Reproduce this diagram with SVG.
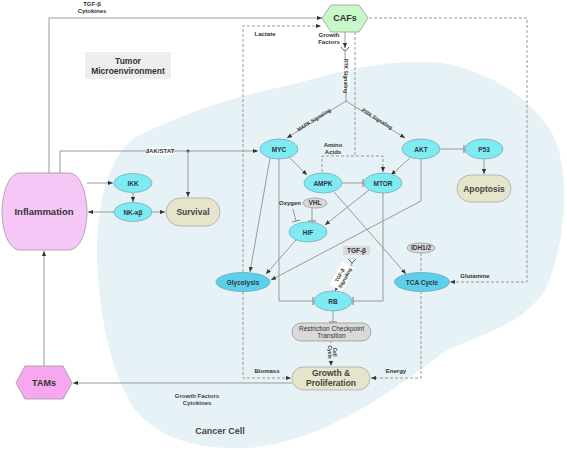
<svg xmlns="http://www.w3.org/2000/svg" width="567" height="450" viewBox="0 0 567 450">
<defs>
<marker id="arr" viewBox="0 0 6 6" refX="6" refY="3" markerWidth="5" markerHeight="5" orient="auto" markerUnits="userSpaceOnUse"><path d="M0,0.5 L6,3 L0,5.5Z" fill="#333"/></marker>
<marker id="bar" viewBox="0 0 2 8" refX="1" refY="4" markerWidth="2" markerHeight="8" orient="auto" markerUnits="userSpaceOnUse"><line x1="1" y1="0" x2="1" y2="8" stroke="#888" stroke-width="1.2"/></marker>
<style>
text{font-family:"Liberation Sans",Arial,sans-serif;font-weight:bold;fill:#333;text-anchor:middle}
.sm{font-size:6px}
.nd{font-size:6.5px;fill:#334}
.big{font-size:8.5px;fill:#444}
.ln{fill:none;stroke:#999;stroke-width:1}
.ds{fill:none;stroke:#999;stroke-width:1;stroke-dasharray:3,2}
.a{marker-end:url(#arr)}
.t{marker-end:url(#bar)}
.cy{fill:#7eebf3;stroke:#7ab;stroke-width:0.8}
.cyd{fill:#5ccfea;stroke:#6ab;stroke-width:0.8}
.gy{fill:#d9d9d9;stroke:#999;stroke-width:0.8}
.bg{fill:#e6e5cb;stroke:#aaa;stroke-width:0.8}
</style>
</defs>
<rect width="567" height="450" fill="#fff"/>
<path id="cell" d="M290,85 C340,72 380,60 430,62 C480,65 530,95 553,135 C570,170 568,240 545,290 C520,330 470,335 440,355 C400,385 330,440 250,448 C200,450 160,440 135,410 C110,370 100,320 97,260 C96,200 110,150 140,135 C190,110 240,95 290,85 Z" fill="#e6f2f6"/>
<g id="tme"><rect x="85" y="52" width="86" height="27" fill="#eee"/><text x="128" y="64" style="font-size:8.5px">Tumor</text><text x="128" y="74" style="font-size:8.5px">Microenvironment</text></g>
<text x="220" y="434" style="font-size:9px;fill:#444">Cancer Cell</text>
<g id="connectors">
<polyline class="ln a" points="49,173 49,18 322,18"/>
<polyline class="ln a" points="60,173 60,151 258,151"/>
<circle cx="188" cy="151" r="1.5" fill="#444"/>
<line class="ln a" x1="188" y1="151" x2="188" y2="197"/>
<line class="ln a" x1="87" y1="183" x2="113" y2="183"/>
<line class="ln a" x1="133" y1="193" x2="133" y2="202"/>
<line class="ln a" x1="114" y1="212" x2="88" y2="212"/>
<line class="ln a" x1="152" y1="212" x2="165" y2="212"/>
<line class="ln a" x1="44" y1="366" x2="44" y2="251"/>
<line class="ln a" x1="292" y1="383" x2="73" y2="383"/>
<polyline class="ds a" points="243,272 243,26 321,26"/>
<polyline class="ds a" points="243,292 243,378 291,378"/>
<polyline class="ds a" points="421,291 421,378 371,378"/>
<polyline class="ds a" points="369,18 527,18 527,282 450,282"/>
<line class="ds" x1="355" y1="32" x2="355" y2="156"/>
<polyline class="ds a" points="322,172 322,156 383,156 383,172"/>
<line class="ds" x1="421" y1="253" x2="421" y2="273"/>
<line class="ds a" x1="331" y1="341" x2="331" y2="366"/>
<line class="ln a" x1="345" y1="32" x2="345" y2="48"/>
<path d="M341,47 Q345,54 349,47" fill="none" stroke="#666" stroke-width="1"/>
<line class="ln" x1="345" y1="51" x2="346" y2="101"/>
<line class="ln a" x1="346" y1="101" x2="287" y2="138"/>
<line class="ln a" x1="346" y1="101" x2="405" y2="138"/>
<line class="ln t" x1="440" y1="149" x2="464" y2="149"/>
<line class="ln a" x1="484" y1="159" x2="484" y2="174"/>
<line class="ln a" x1="289" y1="157" x2="307" y2="175"/>
<line class="ln a" x1="410" y1="158" x2="391" y2="175"/>
<line class="ln t" x1="342" y1="183" x2="363" y2="183"/>
<line class="ln t" x1="293" y1="209" x2="296" y2="221"/>
<line class="ln t" x1="312" y1="208" x2="312" y2="221"/>
<line class="ln a" x1="369" y1="190" x2="325" y2="225"/>
<line class="ln a" x1="296" y1="240" x2="266" y2="274"/>
<line class="ln a" x1="270" y1="158" x2="250" y2="272"/>
<polyline class="ln a" points="421,159 421,201 271,280"/>
<line class="ln a" x1="334" y1="192" x2="406" y2="274"/>
<polyline class="ln t" points="279,159 279,301 313,301"/>
<polyline class="ln t" points="383,193 383,301 353,301"/>
<line class="ln t" x1="333" y1="311" x2="333" y2="322"/>
<path d="M348,259 L352,263 L356,259 M352,263 L352,264" fill="none" stroke="#666" stroke-width="1"/>
<line class="ln a" x1="352" y1="264" x2="335" y2="291"/>
</g>
<g id="labels">
<text class="sm" x="92" y="6">TGF-β</text>
<text class="sm" x="92" y="13">Cytokines</text>
<text class="sm" x="265" y="36">Lactate</text>
<text class="sm" x="329" y="37">Growth</text>
<text class="sm" x="329" y="44">Factors</text>
<rect x="149" y="147" width="24" height="8" fill="#fff"/>
<text class="sm" x="160" y="153">JAK/STAT</text>
<g transform="translate(346,76) rotate(90)"><rect x="-17" y="-4" width="34" height="7" fill="#fff"/><text class="sm" style="font-size:5px" x="0" y="1.8">RTK Signaling</text></g>
<g transform="translate(314,120) rotate(-32)"><text class="sm" style="font-size:5px" x="0" y="1.5">MAPK Signaling</text></g>
<g transform="translate(377,119) rotate(32)"><text class="sm" style="font-size:5px" x="0" y="1.5">PI3K Signaling</text></g>
<text class="sm" x="333" y="147">Amino</text>
<text class="sm" x="333" y="154">Acids</text>
<text class="sm" x="290" y="205">Oxygen</text>
<g transform="translate(343,277) rotate(-61)"><rect x="-13" y="-8" width="26" height="14" fill="#fff"/><text class="sm" style="font-size:5px" x="0" y="-2">TGF-β</text><text class="sm" style="font-size:5px" x="0" y="4">Signaling</text></g>
<g transform="translate(332,352) rotate(90)"><rect x="-9" y="-6" width="18" height="12" fill="#e6f2f6"/><text class="sm" style="font-size:5px" x="0" y="-1">Cell</text><text class="sm" style="font-size:5px" x="0" y="4.5">Cycle</text></g>
<text class="sm" x="267" y="373">Biomass</text>
<text class="sm" x="396" y="373">Energy</text>
<text class="sm" x="475" y="278">Glutamine</text>
<text class="sm" x="197" y="398" style="fill:#444">Growth Factors</text>
<text class="sm" x="197" y="405" style="fill:#444">Cytokines</text>
</g>
<g id="inflammation"><path d="M20,173 L69,173 C81,173 87,195 87,212 C87,229 81,250 69,250 L20,250 C8,250 2,229 2,212 C2,195 8,173 20,173 Z" fill="#f6c6f6" stroke="#999" stroke-width="0.8"/><text x="44" y="215" style="font-size:9.5px">Inflammation</text></g>
<g id="cafs"><polygon points="322,18 331,5 359,5 368,18 359,32 331,32" fill="#c8f7c8" stroke="#999" stroke-width="0.8"/><text x="345" y="21" style="font-size:9px">CAFs</text></g>
<g id="tams"><polygon points="16,383 25,366 63,366 72,383 63,399 25,399" fill="#f7a6f0" stroke="#999" stroke-width="0.8"/><text x="44" y="386" style="font-size:9px">TAMs</text></g>
<g id="ikk"><ellipse class="cy" cx="133" cy="183" rx="19" ry="9.5"/><text class="nd" x="133" y="185.5">IKK</text></g>
<g id="nfkb"><ellipse class="cy" cx="133" cy="212" rx="19" ry="9.5"/><text class="nd" x="133" y="214.5">NK-κβ</text></g>
<g id="survival"><rect class="bg" x="166" y="198" width="54" height="28" rx="14"/><text class="big" x="193" y="215">Survival</text></g>
<g id="myc"><ellipse class="cy" cx="279" cy="149" rx="19" ry="10"/><text class="nd" x="279" y="151.5">MYC</text></g>
<g id="akt"><ellipse class="cy" cx="421" cy="149" rx="19" ry="10"/><text class="nd" x="421" y="151.5">AKT</text></g>
<g id="p53"><ellipse class="cy" cx="484" cy="149" rx="19" ry="10"/><text class="nd" x="484" y="151.5">P53</text></g>
<g id="apoptosis"><rect class="bg" x="457" y="175" width="54" height="27" rx="13.5"/><text class="big" x="484" y="191.5">Apoptosis</text></g>
<g id="ampk"><ellipse class="cy" cx="323" cy="183" rx="19" ry="10"/><text class="nd" x="323" y="185.5">AMPK</text></g>
<g id="mtor"><ellipse class="cy" cx="383" cy="183" rx="19" ry="10"/><text class="nd" x="383" y="185.5">MTOR</text></g>
<g id="vhl"><ellipse class="gy" cx="315" cy="203" rx="12" ry="5"/><text class="nd" x="315" y="205.3">VHL</text></g>
<g id="hif"><ellipse class="cy" cx="308" cy="232" rx="19" ry="10"/><text class="nd" x="308" y="234.5">HIF</text></g>
<g id="glycolysis"><ellipse class="cyd" cx="243" cy="282" rx="27" ry="9.5"/><text class="nd" x="243" y="284.5">Glycolysis</text></g>
<g id="tca"><ellipse class="cyd" cx="422" cy="282" rx="27.5" ry="9.5"/><text class="nd" x="422" y="284.5">TCA Cycle</text></g>
<g id="idh"><ellipse class="gy" cx="421" cy="248" rx="14" ry="5"/><text class="nd" x="421" y="250.3">IDH1/2</text></g>
<g id="tgfb"><rect class="gy" x="343" y="246" width="27" height="9" style="stroke:none"/><text class="nd" x="356.5" y="252.8">TGF-β</text></g>
<g id="rb"><ellipse class="cy" cx="333" cy="301" rx="19" ry="10"/><text class="nd" x="333" y="303.5">RB</text></g>
<g id="restriction"><rect class="gy" x="292" y="323" width="79" height="18" rx="9"/><text x="331.5" y="330.5" style="font-size:6.5px;font-weight:normal">Restriction Checkpoint</text><text x="331.5" y="338" style="font-size:6.5px;font-weight:normal">Transition</text></g>
<g id="growth"><rect class="bg" x="292" y="367" width="78" height="23" rx="11.5"/><text class="big" x="331" y="376">Growth &amp;</text><text class="big" x="331" y="386">Proliferation</text></g>
</svg>
